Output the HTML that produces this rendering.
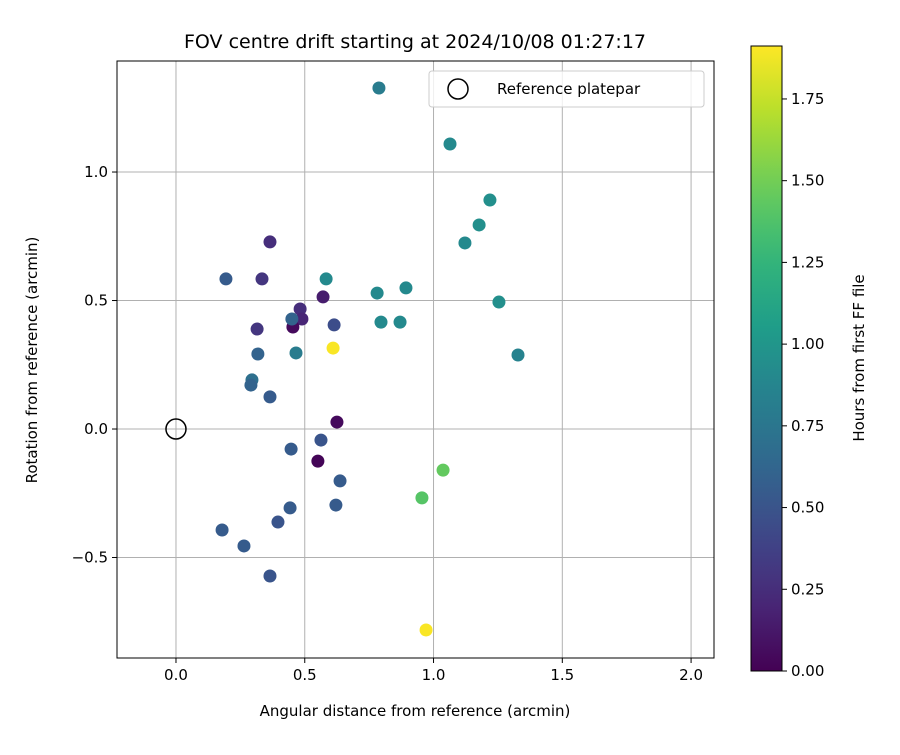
<!DOCTYPE html>
<html><head><meta charset="utf-8"><style>body{margin:0;background:#fff}svg{font-family:"DejaVu Sans","Liberation Sans",sans-serif}</style></head>
<body>
<svg id="c" width="900" height="750" viewBox="0 0 900 750"></svg>
<script>
const xs=[0.788,1.064,1.219,1.177,1.122,1.254,1.328,0.893,0.781,0.796,0.870,0.583,0.365,0.194,0.334,0.571,0.482,0.489,0.454,0.450,0.614,0.315,0.466,0.318,0.610,0.295,0.291,0.365,0.625,0.563,0.447,0.551,1.037,0.637,0.955,0.621,0.443,0.396,0.179,0.264,0.365,0.971];
const ys=[1.327,1.109,0.891,0.794,0.724,0.494,0.288,0.549,0.529,0.416,0.416,0.584,0.728,0.584,0.584,0.514,0.467,0.428,0.397,0.428,0.405,0.389,0.296,0.292,0.315,0.191,0.171,0.125,0.027,-0.043,-0.078,-0.125,-0.160,-0.202,-0.268,-0.296,-0.307,-0.362,-0.393,-0.455,-0.572,-0.782];
const hours=[0.8,0.9,0.95,0.95,0.9,0.95,0.85,0.9,0.9,0.9,0.9,0.9,0.25,0.55,0.3,0.15,0.25,0.2,0.05,0.6,0.45,0.3,0.8,0.6,1.9,0.7,0.6,0.55,0.05,0.5,0.55,0.02,1.45,0.55,1.4,0.55,0.55,0.5,0.55,0.55,0.5,1.9];
const xTicks=[0,0.5,1,1.5,2], xTickLabels=["0.0","0.5","1.0","1.5","2.0"];
const yTicks=[-0.5,0,0.5,1], yTickLabels=["−0.5","0.0","0.5","1.0"];
const cTicks=[0,0.25,0.5,0.75,1,1.25,1.5,1.75], cTickLabels=["0.00","0.25","0.50","0.75","1.00","1.25","1.50","1.75"];
const L=117,R=714,T=61,B=658, X0=-0.229,X1=2.089,Y0=-0.891,Y1=1.432, CMAX=1.912;
const sx=v=>L+(v-X0)/(X1-X0)*(R-L), sy=v=>B-(v-Y0)/(Y1-Y0)*(B-T);
const CT=46,CB=671,CL=751,CR=782, sc=v=>CB-v/CMAX*(CB-CT);
const vir=[[68,1,84],[72,40,120],[62,73,137],[49,104,142],[38,130,142],[31,158,137],[53,183,121],[109,205,89],[180,222,44],[253,231,37]];
function cmap(t){t=Math.max(0,Math.min(1,t))*9;const i=Math.min(8,Math.floor(t)),f=t-i,a=vir[i],b=vir[i+1];return `rgb(${a.map((v,k)=>Math.round(v+(b[k]-v)*f)).join(',')})`;}
const svg=document.getElementById('c'),NS='http://www.w3.org/2000/svg';
function el(tag,at,txt){const e=document.createElementNS(NS,tag);for(const k in at)e.setAttribute(k,at[k]);if(txt!=null)e.textContent=txt;svg.appendChild(e);return e;}
let e;
xTicks.forEach((v,i)=>{const x=sx(v);
e=el('line',{x1:x,x2:x,y1:T,y2:B,stroke:'#b0b0b0','stroke-width':1});
e=el('line',{x1:x,x2:x,y1:B,y2:B+5,stroke:'#000'});
e=el('text',{x:x,y:B+22,'font-size':15,'text-anchor':'middle'},xTickLabels[i]);});
yTicks.forEach((v,i)=>{const y=sy(v);
e=el('line',{x1:L,x2:R,y1:y,y2:y,stroke:'#b0b0b0','stroke-width':1});
e=el('line',{x1:L-5,x2:L,y1:y,y2:y,stroke:'#000'});
e=el('text',{x:L-9,y:y+5,'font-size':15,'text-anchor':'end'},yTickLabels[i]);});
xs.forEach((v,i)=>{e=el('circle',{cx:sx(v),cy:sy(ys[i]),r:6.5,fill:cmap(hours[i]/CMAX)});});
e=el('circle',{cx:sx(0),cy:sy(0),r:10,fill:'none',stroke:'#000','stroke-width':1.5});
e=el('rect',{x:L,y:T,width:R-L,height:B-T,fill:'none',stroke:'#000','stroke-width':1});
e=el('rect',{x:429,y:71,width:275,height:36,rx:3,fill:'#fff','fill-opacity':0.8,stroke:'#ccc'});
e=el('circle',{cx:458,cy:89,r:10,fill:'none',stroke:'#000','stroke-width':1.5});
e=el('text',{x:497,y:94,'font-size':15},'Reference platepar');
e=el('text',{x:415,y:48,'font-size':19,'text-anchor':'middle'},'FOV centre drift starting at 2024/10/08 01:27:17');
e=el('text',{x:415,y:716,'font-size':15,'text-anchor':'middle'},'Angular distance from reference (arcmin)');
e=el('text',{x:37,y:360,'font-size':15,'text-anchor':'middle',transform:'rotate(-90 37 360)'},'Rotation from reference (arcmin)');
const defs=el('defs',{});const g=document.createElementNS(NS,'linearGradient');g.setAttribute('id','vg');g.setAttribute('x1','0');g.setAttribute('y1','1');g.setAttribute('x2','0');g.setAttribute('y2','0');
for(let i=0;i<=20;i++){const s=document.createElementNS(NS,'stop');s.setAttribute('offset',i/20);s.setAttribute('stop-color',cmap(i/20));g.appendChild(s);}defs.appendChild(g);
e=el('rect',{x:CL,y:CT,width:CR-CL,height:CB-CT,fill:'url(#vg)',stroke:'#000'});
cTicks.forEach((v,i)=>{const y=sc(v);
e=el('line',{x1:CR,x2:CR+5,y1:y,y2:y,stroke:'#000'});
e=el('text',{x:CR+9,y:y+5,'font-size':15},cTickLabels[i]);});
e=el('text',{x:864,y:358,'font-size':15,'text-anchor':'middle',transform:'rotate(-90 864 358)'},'Hours from first FF file');
</script>
</body></html>
